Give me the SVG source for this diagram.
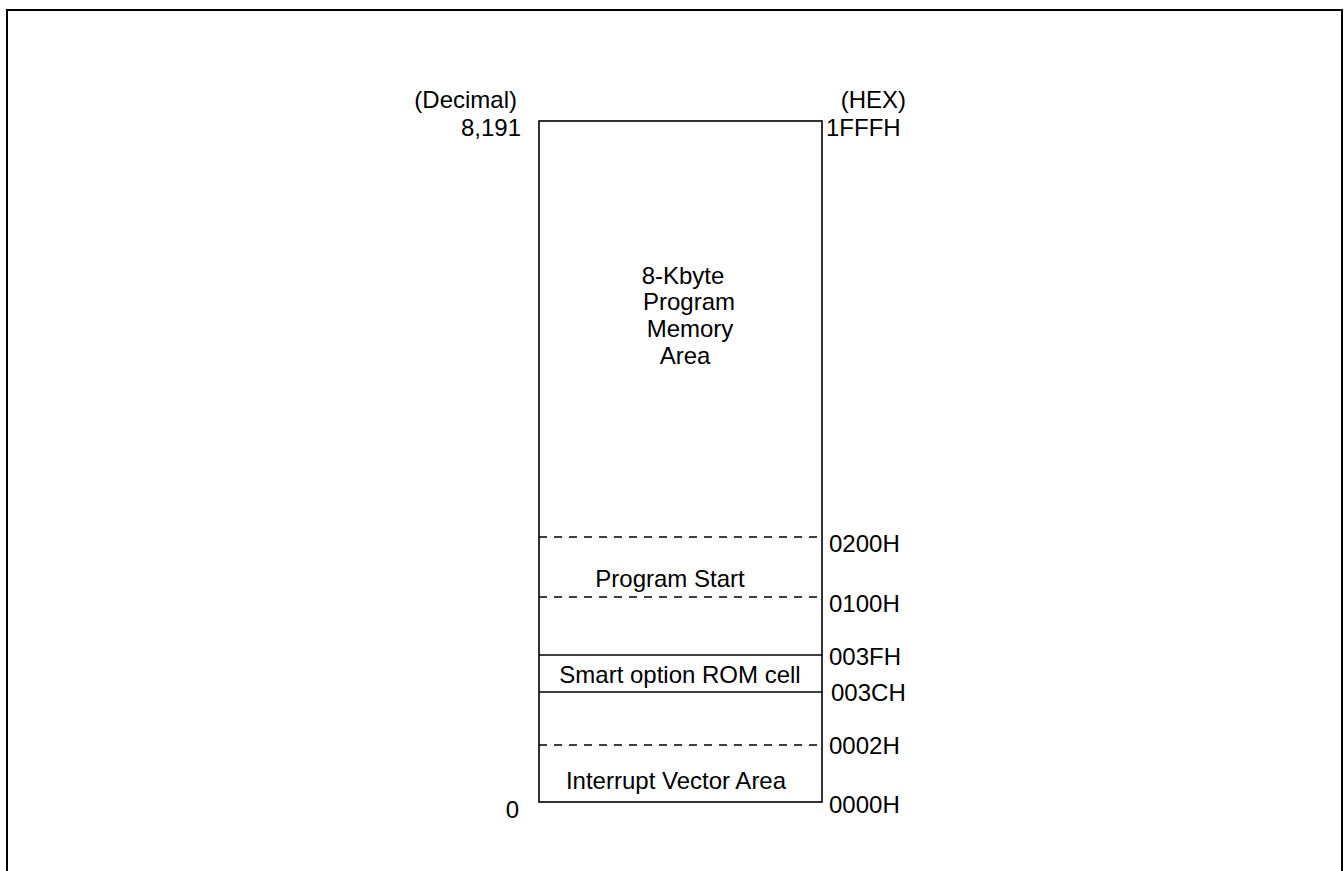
<svg xmlns="http://www.w3.org/2000/svg" width="1344" height="871" viewBox="0 0 1344 871">
<style>
text{font-family:"Liberation Sans",Arial,sans-serif;font-size:24px;fill:#000}
.m{text-anchor:middle}
.e{text-anchor:end}
.s{stroke:#000;stroke-width:1.6;fill:none}
.d{stroke:#000;stroke-width:1.5;stroke-dasharray:8 7;fill:none}
</style>
<rect width="1344" height="871" fill="#fff"/>
<path d="M7 871 V10 H1342 V871" stroke="#000" stroke-width="2" fill="none"/>
<g id="labels-left">
<text x="517" y="108" class="e">(Decimal)</text>
<text x="521" y="136" class="e">8,191</text>
<text x="519" y="818" class="e">0</text>
</g>
<g id="labels-right">
<text x="906" y="108" class="e">(HEX)</text>
<text x="826" y="136">1FFFH</text>
<text x="829" y="552">0200H</text>
<text x="829" y="612">0100H</text>
<text x="829" y="665">003FH</text>
<text x="831" y="701">003CH</text>
<text x="829" y="754">0002H</text>
<text x="829" y="813">0000H</text>
</g>
<g id="memory-map">
<rect x="539" y="121" width="283" height="681" class="s"/>
<line x1="539" y1="655" x2="822" y2="655" class="s"/>
<line x1="539" y1="692" x2="822" y2="692" class="s"/>
</g>
<g id="connectors">
<line x1="539" y1="537" x2="822" y2="537" class="d"/>
<line x1="539" y1="597" x2="822" y2="597" class="d"/>
<line x1="539" y1="745" x2="822" y2="745" class="d"/>
</g>
<g id="area-program">
<text x="683" y="284" class="m">8-Kbyte</text>
<text x="689" y="310" class="m">Program</text>
<text x="690" y="337" class="m">Memory</text>
<text x="685" y="364" class="m">Area</text>
</g>
<g id="area-start"><text x="670" y="587" class="m">Program Start</text></g>
<g id="area-smart"><text x="680" y="683" class="m">Smart option ROM cell</text></g>
<g id="area-interrupt"><text x="676" y="789" class="m">Interrupt Vector Area</text></g>
</svg>
